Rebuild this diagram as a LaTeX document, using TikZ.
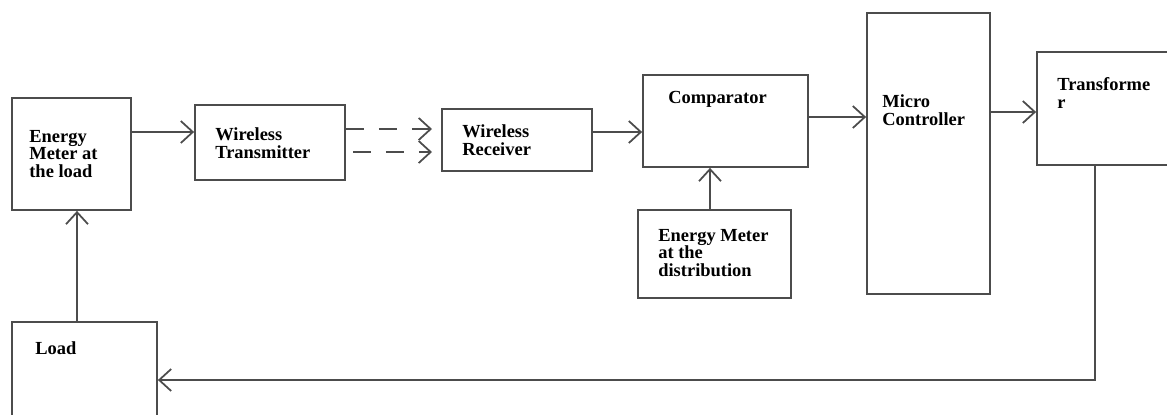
\documentclass[tikz,border=0pt]{standalone}
\usepackage{fontspec}
\setmainfont{Liberation Serif}
\usetikzlibrary{arrows.meta,fit}
\tikzset{
  box/.style={draw=black!70, line width=1pt, inner sep=0pt},
  txt/.style={font=\fontsize{10.5}{10}\selectfont\bfseries, align=left, inner sep=0pt, anchor=west},
  arr/.style={draw=black!70, line width=1pt, -{Straight Barb[length=0.24cm,width=0.44cm]}},
  dsh/.style={arr, dash pattern=on 0.36cm off 0.3cm}
}

\begin{document}
\begin{tikzpicture}[x=0.02cm, y=-0.02cm]
			%%%%% START %%%%%
			\useasboundingbox[fill=white] (0,0) rectangle (1167,414);
			
			% blocks
			\node[box, fit={(12,98) (131,210)}] (meterload) {};
			\node[box, fit={(195,105) (345,180)}] (trans) {};
			\node[box, fit={(442,109) (592,171)}] (recv) {};
			\node[box, fit={(643,75) (808,167)}] (comp) {};
			\node[box, fit={(638,210) (791,298)}] (meterdist) {};
			\node[box, fit={(867,13) (990,294)}] (micro) {};
			\node[box, fit={(1037,52) (1172,165)}] (transf) {};
			\node[box, fit={(12,322) (157,424)}] (load) {};
			
			% labels
			\node[txt] (tmeterload) at (29,154) {Energy\\Meter at\\the load};
			\node[txt] (ttrans) at (215,143) {Wireless\\Transmitter};
			\node[txt] (trecv) at (462,140) {Wireless\\Receiver};
			\node[txt] (tcomp) at (668,99) {Comparator};
			\node[txt] (tmeterdist) at (658,253) {Energy Meter\\at the\\distribution};
			\node[txt] (tmicro) at (882,110) {Micro\\Controller};
			\node[txt] (ttransf) at (1057,93) {Transforme\\r};
			\node[txt] (tload) at (35,348) {Load};
			
			% connections
			\draw[arr] (meterload.east |- 0,132) -- (trans.west |- 0,132);
			\draw[dsh] (trans.east |- 0,129) -- (432,129);
			\draw[dsh] (353,152) -- (432,152);
			\draw[arr] (recv.east |- 0,132) -- (comp.west |- 0,132);
			\draw[arr] (meterdist.north -| 710,0) -- (comp.south -| 710,0);
			\draw[arr] (comp.east |- 0,117) -- (micro.west |- 0,117);
			\draw[arr] (micro.east |- 0,112) -- (transf.west |- 0,112);
			\draw[arr] (transf.south -| 1095,0) -- (1095,380) -- (load.east |- 0,380);
			\draw[arr] (load.north -| 77,0) -- (meterload.south -| 77,0);
			
			%%%%% END %%%%%
		\end{tikzpicture}
\end{document}
